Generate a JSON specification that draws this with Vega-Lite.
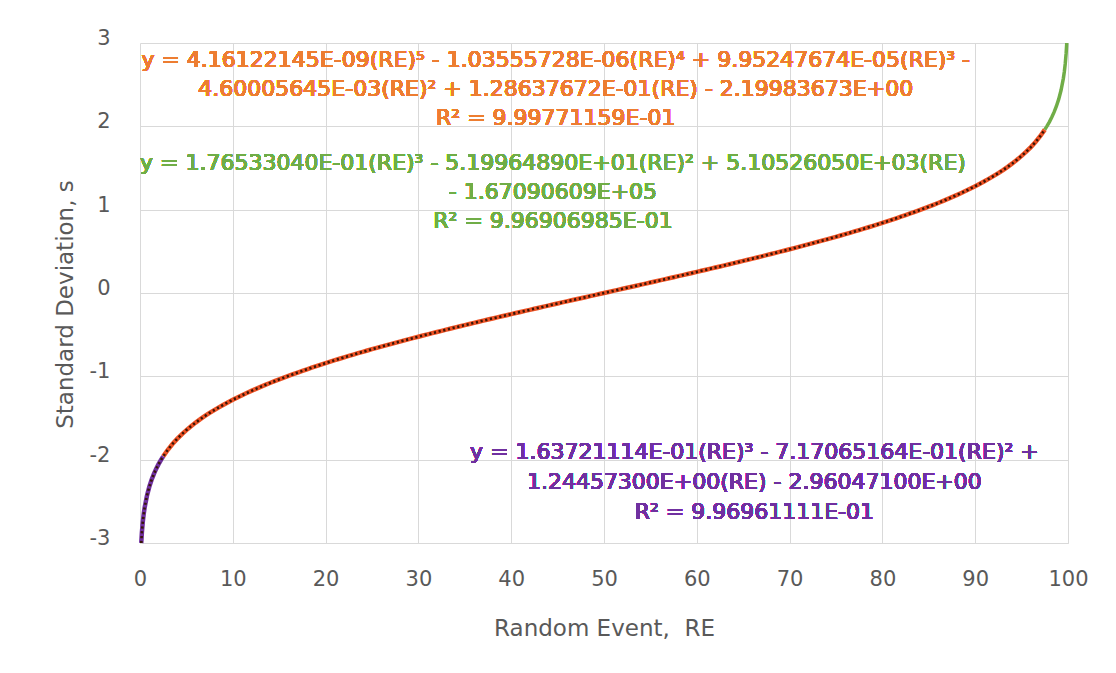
{
  "$schema": "https://vega.github.io/schema/vega-lite/v6.json",
  "width": 928,
  "height": 500,
  "autosize": "none",
  "padding": {"left": 140, "top": 43, "right": 48, "bottom": 130},
  "background": "white",
  "config": {"view": {"stroke": null}, "font": "DejaVu Sans"},
  "data": {"values": [
    {"RE": 0.135, "s": -3.0}, {"RE": 0.2, "s": -2.8782}, {"RE": 0.3, "s": -2.7478}, {"RE": 0.4, "s": -2.6521},
    {"RE": 0.5, "s": -2.5758}, {"RE": 0.75, "s": -2.4324}, {"RE": 1, "s": -2.3263}, {"RE": 1.25, "s": -2.2414},
    {"RE": 1.5, "s": -2.1701}, {"RE": 1.75, "s": -2.1081}, {"RE": 2, "s": -2.0537}, {"RE": 2.25, "s": -2.0047},
    {"RE": 2.5, "s": -1.96}, {"RE": 3, "s": -1.8808}, {"RE": 3.5, "s": -1.8119}, {"RE": 4, "s": -1.7507},
    {"RE": 4.5, "s": -1.6954}, {"RE": 5, "s": -1.6449}, {"RE": 5.5, "s": -1.5982}, {"RE": 6, "s": -1.5548},
    {"RE": 6.5, "s": -1.5141}, {"RE": 7, "s": -1.4758}, {"RE": 7.5, "s": -1.4395}, {"RE": 8, "s": -1.4051},
    {"RE": 8.5, "s": -1.3722}, {"RE": 9, "s": -1.3408}, {"RE": 9.5, "s": -1.3106}, {"RE": 10, "s": -1.2816},
    {"RE": 10.5, "s": -1.2536}, {"RE": 11, "s": -1.2265}, {"RE": 11.5, "s": -1.2004}, {"RE": 12, "s": -1.175},
    {"RE": 12.5, "s": -1.1503}, {"RE": 13, "s": -1.1264}, {"RE": 13.5, "s": -1.1031}, {"RE": 14, "s": -1.0803},
    {"RE": 14.5, "s": -1.0581}, {"RE": 15, "s": -1.0364}, {"RE": 15.5, "s": -1.0152}, {"RE": 16, "s": -0.9945},
    {"RE": 16.5, "s": -0.9741}, {"RE": 17, "s": -0.9542}, {"RE": 17.5, "s": -0.9346}, {"RE": 18, "s": -0.9154},
    {"RE": 18.5, "s": -0.8965}, {"RE": 19, "s": -0.8779}, {"RE": 19.5, "s": -0.8596}, {"RE": 20, "s": -0.8416},
    {"RE": 20.5, "s": -0.8239}, {"RE": 21, "s": -0.8064}, {"RE": 21.5, "s": -0.7892}, {"RE": 22, "s": -0.7722},
    {"RE": 22.5, "s": -0.7554}, {"RE": 23, "s": -0.7388}, {"RE": 23.5, "s": -0.7225}, {"RE": 24, "s": -0.7063},
    {"RE": 24.5, "s": -0.6903}, {"RE": 25, "s": -0.6745}, {"RE": 25.5, "s": -0.6588}, {"RE": 26, "s": -0.6433},
    {"RE": 26.5, "s": -0.628}, {"RE": 27, "s": -0.6128}, {"RE": 27.5, "s": -0.5978}, {"RE": 28, "s": -0.5828},
    {"RE": 28.5, "s": -0.5681}, {"RE": 29, "s": -0.5534}, {"RE": 29.5, "s": -0.5388}, {"RE": 30, "s": -0.5244},
    {"RE": 30.5, "s": -0.5101}, {"RE": 31, "s": -0.4959}, {"RE": 31.5, "s": -0.4817}, {"RE": 32, "s": -0.4677},
    {"RE": 32.5, "s": -0.4538}, {"RE": 33, "s": -0.4399}, {"RE": 33.5, "s": -0.4261}, {"RE": 34, "s": -0.4125},
    {"RE": 34.5, "s": -0.3989}, {"RE": 35, "s": -0.3853}, {"RE": 35.5, "s": -0.3719}, {"RE": 36, "s": -0.3585},
    {"RE": 36.5, "s": -0.3451}, {"RE": 37, "s": -0.3319}, {"RE": 37.5, "s": -0.3186}, {"RE": 38, "s": -0.3055},
    {"RE": 38.5, "s": -0.2924}, {"RE": 39, "s": -0.2793}, {"RE": 39.5, "s": -0.2663}, {"RE": 40, "s": -0.2533},
    {"RE": 40.5, "s": -0.2404}, {"RE": 41, "s": -0.2275}, {"RE": 41.5, "s": -0.2147}, {"RE": 42, "s": -0.2019},
    {"RE": 42.5, "s": -0.1891}, {"RE": 43, "s": -0.1764}, {"RE": 43.5, "s": -0.1637}, {"RE": 44, "s": -0.151},
    {"RE": 44.5, "s": -0.1383}, {"RE": 45, "s": -0.1257}, {"RE": 45.5, "s": -0.113}, {"RE": 46, "s": -0.1004},
    {"RE": 46.5, "s": -0.0878}, {"RE": 47, "s": -0.0753}, {"RE": 47.5, "s": -0.0627}, {"RE": 48, "s": -0.0502},
    {"RE": 48.5, "s": -0.0376}, {"RE": 49, "s": -0.0251}, {"RE": 49.5, "s": -0.0125}, {"RE": 50, "s": 0},
    {"RE": 50.5, "s": 0.0125}, {"RE": 51, "s": 0.0251}, {"RE": 51.5, "s": 0.0376}, {"RE": 52, "s": 0.0502},
    {"RE": 52.5, "s": 0.0627}, {"RE": 53, "s": 0.0753}, {"RE": 53.5, "s": 0.0878}, {"RE": 54, "s": 0.1004},
    {"RE": 54.5, "s": 0.113}, {"RE": 55, "s": 0.1257}, {"RE": 55.5, "s": 0.1383}, {"RE": 56, "s": 0.151},
    {"RE": 56.5, "s": 0.1637}, {"RE": 57, "s": 0.1764}, {"RE": 57.5, "s": 0.1891}, {"RE": 58, "s": 0.2019},
    {"RE": 58.5, "s": 0.2147}, {"RE": 59, "s": 0.2275}, {"RE": 59.5, "s": 0.2404}, {"RE": 60, "s": 0.2533},
    {"RE": 60.5, "s": 0.2663}, {"RE": 61, "s": 0.2793}, {"RE": 61.5, "s": 0.2924}, {"RE": 62, "s": 0.3055},
    {"RE": 62.5, "s": 0.3186}, {"RE": 63, "s": 0.3319}, {"RE": 63.5, "s": 0.3451}, {"RE": 64, "s": 0.3585},
    {"RE": 64.5, "s": 0.3719}, {"RE": 65, "s": 0.3853}, {"RE": 65.5, "s": 0.3989}, {"RE": 66, "s": 0.4125},
    {"RE": 66.5, "s": 0.4261}, {"RE": 67, "s": 0.4399}, {"RE": 67.5, "s": 0.4538}, {"RE": 68, "s": 0.4677},
    {"RE": 68.5, "s": 0.4817}, {"RE": 69, "s": 0.4959}, {"RE": 69.5, "s": 0.5101}, {"RE": 70, "s": 0.5244},
    {"RE": 70.5, "s": 0.5388}, {"RE": 71, "s": 0.5534}, {"RE": 71.5, "s": 0.5681}, {"RE": 72, "s": 0.5828},
    {"RE": 72.5, "s": 0.5978}, {"RE": 73, "s": 0.6128}, {"RE": 73.5, "s": 0.628}, {"RE": 74, "s": 0.6433},
    {"RE": 74.5, "s": 0.6588}, {"RE": 75, "s": 0.6745}, {"RE": 75.5, "s": 0.6903}, {"RE": 76, "s": 0.7063},
    {"RE": 76.5, "s": 0.7225}, {"RE": 77, "s": 0.7388}, {"RE": 77.5, "s": 0.7554}, {"RE": 78, "s": 0.7722},
    {"RE": 78.5, "s": 0.7892}, {"RE": 79, "s": 0.8064}, {"RE": 79.5, "s": 0.8239}, {"RE": 80, "s": 0.8416},
    {"RE": 80.5, "s": 0.8596}, {"RE": 81, "s": 0.8779}, {"RE": 81.5, "s": 0.8965}, {"RE": 82, "s": 0.9154},
    {"RE": 82.5, "s": 0.9346}, {"RE": 83, "s": 0.9542}, {"RE": 83.5, "s": 0.9741}, {"RE": 84, "s": 0.9945},
    {"RE": 84.5, "s": 1.0152}, {"RE": 85, "s": 1.0364}, {"RE": 85.5, "s": 1.0581}, {"RE": 86, "s": 1.0803},
    {"RE": 86.5, "s": 1.1031}, {"RE": 87, "s": 1.1264}, {"RE": 87.5, "s": 1.1503}, {"RE": 88, "s": 1.175},
    {"RE": 88.5, "s": 1.2004}, {"RE": 89, "s": 1.2265}, {"RE": 89.5, "s": 1.2536}, {"RE": 90, "s": 1.2816},
    {"RE": 90.5, "s": 1.3106}, {"RE": 91, "s": 1.3408}, {"RE": 91.5, "s": 1.3722}, {"RE": 92, "s": 1.4051},
    {"RE": 92.5, "s": 1.4395}, {"RE": 93, "s": 1.4758}, {"RE": 93.5, "s": 1.5141}, {"RE": 94, "s": 1.5548},
    {"RE": 94.5, "s": 1.5982}, {"RE": 95, "s": 1.6449}, {"RE": 95.5, "s": 1.6954}, {"RE": 96, "s": 1.7507},
    {"RE": 96.5, "s": 1.8119}, {"RE": 97, "s": 1.8808}, {"RE": 97.5, "s": 1.96}, {"RE": 97.75, "s": 2.0047},
    {"RE": 98, "s": 2.0537}, {"RE": 98.25, "s": 2.1081}, {"RE": 98.5, "s": 2.1701}, {"RE": 98.75, "s": 2.2414},
    {"RE": 99, "s": 2.3263}, {"RE": 99.25, "s": 2.4324}, {"RE": 99.5, "s": 2.5758}, {"RE": 99.6, "s": 2.6521},
    {"RE": 99.7, "s": 2.7478}, {"RE": 99.8, "s": 2.8782}, {"RE": 99.865, "s": 3.0}
  ]},
  "layer": [
    {
      "transform": [{"filter": "datum.RE >= 2.5 && datum.RE <= 97.5"}],
      "mark": {"type": "line", "color": "#EE5224", "strokeWidth": 4.5},
      "encoding": {
        "x": {"field": "RE", "type": "quantitative",
          "scale": {"domain": [0, 100], "nice": false, "zero": false},
          "axis": {"title": "Random Event, \u00a0RE", "values": [0, 10, 20, 30, 40, 50, 60, 70, 80, 90, 100],
            "grid": true, "gridColor": "#D9D9D9", "gridWidth": 1, "ticks": false, "tickSize": 0,
            "domain": true, "domainColor": "#D9D9D9", "labelFont": "DejaVu Sans", "labelFontSize": 21,
            "labelColor": "#595959", "labelPadding": 25, "labelFlush": false, "labelOverlap": false,
            "labelExpr": "'' + datum.value",
            "titleFont": "DejaVu Sans", "titleFontSize": 23, "titleFontWeight": "normal", "titleColor": "#595959",
            "titleY": 92, "titleBaseline": "alphabetic"}},
        "y": {"field": "s", "type": "quantitative",
          "scale": {"domain": [-3, 3], "nice": false, "zero": false},
          "axis": {"title": "Standard Deviation, s", "values": [-3, -2, -1, 0, 1, 2, 3],
            "grid": true, "gridColor": "#D9D9D9", "gridWidth": 1, "ticks": false, "tickSize": 0,
            "domain": false, "labelFont": "DejaVu Sans", "labelFontSize": 21, "labelColor": "#595959",
            "labelPadding": 30, "labelOffset": -4.5, "labelFlush": false, "labelOverlap": false,
            "labelExpr": "'' + datum.value",
            "titleFont": "DejaVu Sans", "titleFontSize": 23, "titleFontWeight": "normal", "titleColor": "#595959",
            "titleX": -68, "titleY": 261, "titleAngle": -90, "titleBaseline": "alphabetic", "titleAlign": "center"}}
      }
    },
    {
      "transform": [{"filter": "datum.RE <= 2.5"}],
      "mark": {"type": "line", "color": "#7030A0", "strokeWidth": 4.5},
      "encoding": {
        "x": {"field": "RE", "type": "quantitative", "axis": {"title": "Random Event, \u00a0RE"}},
        "y": {"field": "s", "type": "quantitative", "axis": {"title": "Standard Deviation, s"}}
      }
    },
    {
      "transform": [{"filter": "datum.RE <= 97.5"}],
      "mark": {"type": "line", "color": "#3A1608", "strokeWidth": 2.6, "strokeDash": [2.2, 2.6]},
      "encoding": {
        "x": {"field": "RE", "type": "quantitative", "axis": {"title": "Random Event, \u00a0RE"}},
        "y": {"field": "s", "type": "quantitative", "axis": {"title": "Standard Deviation, s"}}
      }
    },
    {
      "transform": [{"filter": "datum.RE >= 97.5"}],
      "mark": {"type": "line", "color": "#70AD47", "strokeWidth": 3.5},
      "encoding": {
        "x": {"field": "RE", "type": "quantitative", "axis": {"title": "Random Event, \u00a0RE"}},
        "y": {"field": "s", "type": "quantitative", "axis": {"title": "Standard Deviation, s"}}
      }
    },
    {
      "mark": {"type": "text", "align": "center", "baseline": "middle", "font": "DejaVu Sans", "fontSize": 22,
        "lineHeight": 29, "fill": "#ED7D31",
        "text": ["y = 4.16122145E-09(RE)⁵ - 1.03555728E-06(RE)⁴ + 9.95247674E-05(RE)³ -",
                 "4.60005645E-03(RE)² + 1.28637672E-01(RE) - 2.19983673E+00",
                 "R² = 9.99771159E-01"]},
      "encoding": {
        "x": {"datum": 44.8, "type": "quantitative", "axis": {"title": "Random Event, \u00a0RE"}},
        "y": {"datum": 2.8, "type": "quantitative", "axis": {"title": "Standard Deviation, s"}}
      }
    },
    {
      "mark": {"type": "text", "align": "center", "baseline": "middle", "font": "DejaVu Sans", "fontSize": 22,
        "lineHeight": 29, "fill": "#70AD47",
        "text": ["y = 1.76533040E-01(RE)³ - 5.19964890E+01(RE)² + 5.10526050E+03(RE)",
                 "- 1.67090609E+05",
                 "R² = 9.96906985E-01"]},
      "encoding": {
        "x": {"datum": 44.5, "type": "quantitative", "axis": {"title": "Random Event, \u00a0RE"}},
        "y": {"datum": 1.56, "type": "quantitative", "axis": {"title": "Standard Deviation, s"}}
      }
    },
    {
      "mark": {"type": "text", "align": "center", "baseline": "middle", "font": "DejaVu Sans", "fontSize": 22,
        "lineHeight": 30, "fill": "#7030A0",
        "text": ["y = 1.63721114E-01(RE)³ - 7.17065164E-01(RE)² +",
                 "1.24457300E+00(RE) - 2.96047100E+00",
                 "R² = 9.96961111E-01"]},
      "encoding": {
        "x": {"datum": 66.2, "type": "quantitative", "axis": {"title": "Random Event, \u00a0RE"}},
        "y": {"datum": -1.908, "type": "quantitative", "axis": {"title": "Standard Deviation, s"}}
      }
    }
  ]
}
